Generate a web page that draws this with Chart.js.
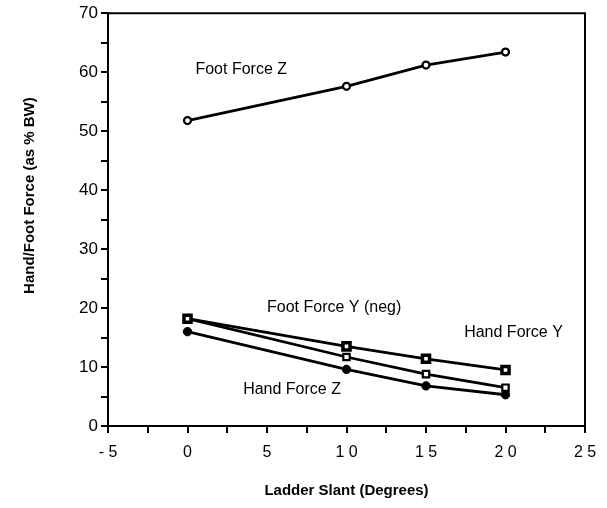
<!DOCTYPE html>
<html>
<head>
<meta charset="utf-8">
<script src="https://cdn.jsdelivr.net/npm/chart.js@4"></script>
<style>
  html, body { margin: 0; padding: 0; background: #fff; }
  #wrap { width: 607px; height: 508px; }
</style>
</head>
<body>
<div id="wrap"><canvas id="chart" width="607" height="508"></canvas></div>
<script>
// Ladder slant (degrees) at which each force was measured
const slant = [0, 10, 15, 20];

// Forces as % body weight
const footForceZ = [51.8, 57.6, 61.2, 63.4];
const handForceY = [18.2, 13.5, 11.4, 9.5];
const footForceYneg = [18.2, 11.7, 8.8, 6.5];
const handForceZ = [16.0, 9.6, 6.8, 5.3];

// In-plot labels, anchored in data units (x = degrees, y = % BW)
const labelText = ['Foot Force Z', 'Foot Force Y (neg)', 'Hand Force Y', 'Hand Force Z'];
const labelX = [0.5, 5.0, 17.4, 3.5];
const labelY = [60.5, 20.0, 15.9, 6.1];

const FONT = '"Liberation Sans", Arial, Helvetica, sans-serif';

const toPoints = ys => slant.map((x, i) => ({ x: x, y: ys[i] }));

const lineStyle = {
  borderColor: '#000',
  borderWidth: 2.8,
  pointBorderColor: '#000',
  fill: false,
  tension: 0
};

new Chart(document.getElementById('chart').getContext('2d'), {
  type: 'line',
  data: {
    datasets: [
      { ...lineStyle, label: 'Foot Force Z', data: toPoints(footForceZ),
        pointStyle: 'circle', pointRadius: 3.5, pointBorderWidth: 2.2, pointBackgroundColor: '#fff' },
      { ...lineStyle, label: 'Hand Force Y', data: toPoints(handForceY),
        pointStyle: 'rect', pointRadius: 5, pointBorderWidth: 3.5, pointBackgroundColor: '#fff' },
      { ...lineStyle, label: 'Foot Force Y (neg)', data: toPoints(footForceYneg),
        pointStyle: 'rect', pointRadius: 4.5, pointBorderWidth: 2.2, pointBackgroundColor: '#fff' },
      { ...lineStyle, label: 'Hand Force Z', data: toPoints(handForceZ),
        pointStyle: 'circle', pointRadius: 4.2, pointBorderWidth: 1, pointBackgroundColor: '#000' }
    ]
  },
  options: {
    responsive: false,
    animation: false,
    layout: { padding: { top: 13, right: 22, left: 0, bottom: 0 } },
    scales: {
      x: {
        type: 'linear',
        min: -5,
        max: 25,
        afterFit: s => { s.height = 82; },
        ticks: {
          stepSize: 2.5,
          autoSkip: false,
          maxRotation: 0,
          padding: 10,
          color: '#000',
          font: { family: FONT, size: 16 },
          // labels only on multiples of 5, digits spaced like the original
          callback: v => (v % 5 === 0 ? String(v).split('').join(' ') : '')
        },
        grid: { drawOnChartArea: false, drawTicks: true, tickLength: 7, color: '#000', lineWidth: 2 },
        border: { display: true, color: '#000', width: 2 },
        title: {
          display: true,
          text: 'Ladder Slant (Degrees)',
          color: '#000',
          font: { family: FONT, size: 15, weight: 'bold' },
          padding: { top: 0, bottom: 8 }
        }
      },
      y: {
        min: 0,
        max: 70,
        afterFit: s => { s.width = 108; },
        ticks: {
          stepSize: 5,
          autoSkip: false,
          padding: 3,
          color: '#000',
          font: { family: FONT, size: 17 },
          callback: v => (v % 10 === 0 ? String(v) : '')
        },
        grid: { drawOnChartArea: false, drawTicks: true, tickLength: 7, color: '#000', lineWidth: 2 },
        border: { display: true, color: '#000', width: 2 },
        title: { display: false }
      }
    },
    plugins: {
      legend: { display: false },
      tooltip: { enabled: false }
    }
  },
  plugins: [{
    id: 'frameAndLabels',
    afterDraw(chart) {
      const { ctx, chartArea, scales } = chart;
      const { top, bottom, left, right } = chartArea;

      // top and right sides of the box
      ctx.save();
      ctx.strokeStyle = '#000';
      ctx.lineWidth = 2;
      ctx.beginPath();
      ctx.moveTo(left, top);
      ctx.lineTo(right, top);
      ctx.lineTo(right, bottom);
      ctx.stroke();

      // series labels inside the plot
      ctx.fillStyle = '#000';
      ctx.font = '16px ' + FONT;
      ctx.textAlign = 'left';
      ctx.textBaseline = 'middle';
      labelText.forEach((t, i) => {
        ctx.fillText(t, scales.x.getPixelForValue(labelX[i]), scales.y.getPixelForValue(labelY[i]));
      });

      // y axis title, sits a little above the middle of the axis
      ctx.translate(30, (top + bottom) / 2 - 24);
      ctx.rotate(-Math.PI / 2);
      ctx.font = 'bold 15px ' + FONT;
      ctx.textAlign = 'center';
      ctx.fillText('Hand/Foot Force (as % BW)', 0, 0);
      ctx.restore();
    }
  }]
});
</script>
</body>
</html>
